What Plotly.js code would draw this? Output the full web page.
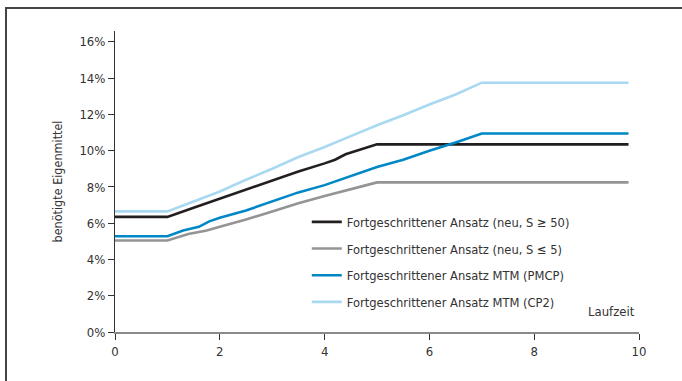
<!DOCTYPE html>
<html>
<head>
<meta charset="utf-8">
<script src="https://cdn.plot.ly/plotly-3.0.1.min.js"></script>
<style>
html,body{margin:0;padding:0;background:#fff;overflow:hidden;}
#frame{position:absolute;left:5px;top:7px;width:700px;height:400px;border-left:2px solid #444;border-top:2px solid #444;box-sizing:border-box;pointer-events:none;z-index:5;}
#chart{position:absolute;left:0;top:0;width:682px;height:381px;}
</style>
</head>
<body>
<div id="chart"></div>
<div id="frame"></div>
<script>
const FONT = '"Liberation Sans Narrow", "DejaVu Sans Condensed", "Liberation Sans", Arial, sans-serif';

const seriesNames = [
  'Fortgeschrittener Ansatz (neu, S \u2265 50)',
  'Fortgeschrittener Ansatz (neu, S \u2264 5)',
  'Fortgeschrittener Ansatz MTM (PMCP)',
  'Fortgeschrittener Ansatz MTM (CP2)'
];

const xBlack = [0, 1, 1.5, 2, 2.5, 3, 3.5, 4, 4.2, 4.4, 5, 9.8];
const yBlack = [6.35, 6.35, 6.85, 7.35, 7.85, 8.35, 8.85, 9.3, 9.5, 9.8, 10.35, 10.35];

const xGray = [0, 1, 1.4, 1.75, 2, 2.5, 3, 3.5, 4, 4.5, 4.8, 5, 9.8];
const yGray = [5.05, 5.05, 5.4, 5.6, 5.8, 6.2, 6.65, 7.1, 7.5, 7.9, 8.1, 8.25, 8.25];

const xBlue = [0, 1, 1.3, 1.45, 1.6, 1.8, 2, 2.5, 3, 3.5, 4, 4.5, 5, 5.5, 6, 6.5, 7, 9.8];
const yBlue = [5.28, 5.28, 5.6, 5.72, 5.8, 6.1, 6.3, 6.7, 7.2, 7.7, 8.1, 8.6, 9.1, 9.5, 10.0, 10.45, 10.95, 10.95];

const xLight = [0, 1, 1.5, 2, 2.5, 3, 3.5, 4, 4.5, 5, 5.5, 6, 6.5, 7, 9.8];
const yLight = [6.65, 6.65, 7.2, 7.75, 8.4, 9.0, 9.65, 10.2, 10.8, 11.4, 11.95, 12.55, 13.1, 13.75, 13.75];

const colors = ['#231f20', '#949494', '#0088c6', '#a9d9f1'];

const xs = [xBlack, xGray, xBlue, xLight];
const ys = [yBlack, yGray, yBlue, yLight];

const traces = xs.map((x, i) => ({
  x: x, y: ys[i], type: 'scatter', mode: 'lines',
  name: seriesNames[i], legendgroup: 'g' + i,
  line: {color: colors[i], width: 2.6}
}));

const yTicks = [0, 2, 4, 6, 8, 10, 12, 14, 16];
const yTickText = yTicks.map(v => v + '%');
const xTicks = [0, 2, 4, 6, 8, 10];

const layout = {
  width: 682, height: 381,
  margin: {l: 115, r: 43, t: 31, b: 49},
  paper_bgcolor: '#fff', plot_bgcolor: '#fff',
  font: {family: FONT, size: 12, color: '#333'},
  showlegend: true,
  legend: {
    x: 0.366, y: 0.415, xanchor: 'left', yanchor: 'top',
    bgcolor: 'rgba(0,0,0,0)', traceorder: 'grouped', tracegroupgap: 7,
    font: {family: FONT, size: 12.8, color: '#333'}
  },
  xaxis: {
    range: [0, 10], tickvals: xTicks, ticks: 'outside', ticklen: 6, tickcolor: '#333', tickwidth: 1,
    showline: true, linecolor: '#8a8a8a', linewidth: 2, showgrid: false, zeroline: false,
    tickfont: {family: FONT, size: 13, color: '#333'}
  },
  yaxis: {
    range: [0, 16.6], tickvals: yTicks, ticktext: yTickText, ticks: 'outside', ticklen: 6,
    tickcolor: '#333', tickwidth: 1, showline: true, linecolor: '#333', linewidth: 1,
    showgrid: false, zeroline: false,
    tickfont: {family: FONT, size: 13, color: '#333'},
    title: {text: 'benötigte Eigenmittel', font: {family: FONT, size: 12.5, color: '#333'}, standoff: 14}
  },
  annotations: [{
    text: 'Laufzeit', xref: 'paper', yref: 'paper', x: 0.948, y: 0.068,
    xanchor: 'center', yanchor: 'middle', showarrow: false,
    font: {family: FONT, size: 13, color: '#333'}
  }]
};

Plotly.newPlot('chart', traces, layout, {displayModeBar: false, staticPlot: true});
</script>
</body>
</html>
